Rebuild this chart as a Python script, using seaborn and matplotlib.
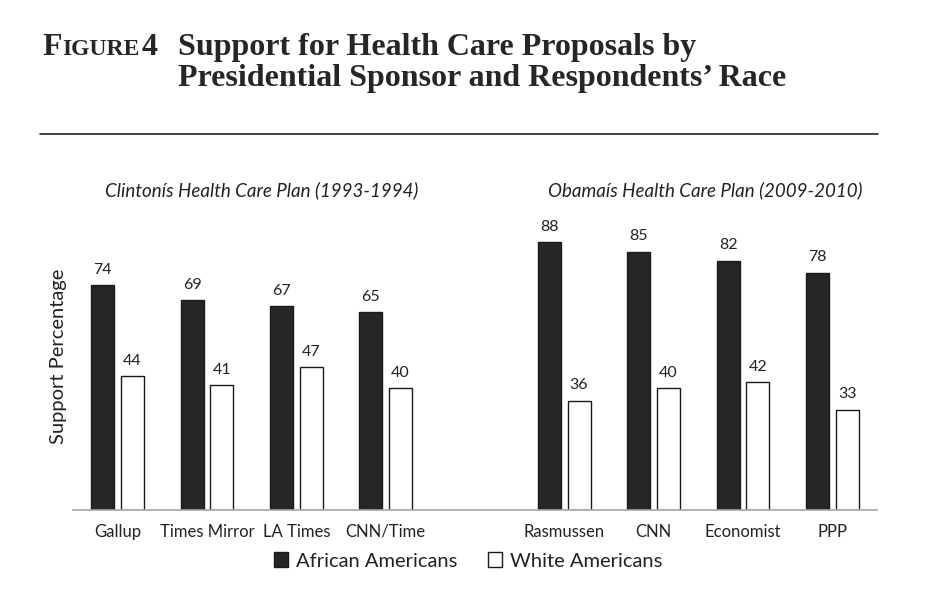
import pandas as pd
import matplotlib.pyplot as plt
import seaborn as sns
from matplotlib.patches import Patch
from matplotlib.lines import Line2D

# Data
clinton_polls = ['Gallup', 'Times Mirror', 'LA Times', 'CNN/Time']
clinton_black = [74, 69, 67, 65]
clinton_white = [44, 41, 47, 40]

obama_polls = ['Rasmussen', 'CNN', 'Economist', 'PPP']
obama_black = [88, 85, 82, 78]
obama_white = [36, 40, 42, 33]

groups = ['African Americans', 'White Americans']
spacer = ' '

rows = []
for polls, blk, wht in [(clinton_polls, clinton_black, clinton_white),
                        (obama_polls, obama_black, obama_white)]:
    for p, b, w in zip(polls, blk, wht):
        rows.append({'poll': p, 'race': groups[0], 'support': b})
        rows.append({'poll': p, 'race': groups[1], 'support': w})
df = pd.DataFrame(rows)
order = clinton_polls + [spacer] + obama_polls

sns.set_style('white')
plt.rcParams['font.family'] = ['Lato', 'DejaVu Sans']

fig = plt.figure(figsize=(9.36, 6), dpi=100)
ax = fig.add_axes([73 / 936, 1 - 510 / 600, (877 - 73) / 936, (510 - 170) / 600])

sns.barplot(data=df, x='poll', y='support', hue='race', order=order,
            hue_order=groups, palette={groups[0]: '#262626', groups[1]: 'white'},
            width=0.66, gap=0.22, edgecolor='#1a1a1a', linewidth=1.0,
            legend=False, ax=ax)

for cont in ax.containers:
    ax.bar_label(cont, fmt='%d', padding=6, fontsize=11.5, color='#222222')

ax.set_ylim(0, 111.8)
ax.set_xlim(-0.5, len(order) - 0.5)
ax.set_yticks([])
ax.set_xlabel('')
ax.set_ylabel('Support Percentage', fontsize=14.5, color='#222222')
ax.yaxis.set_label_coords(-0.008, 0.453)
ax.tick_params(axis='x', length=0, labelsize=12, colors='#222222', pad=10)
for s in ['top', 'right', 'left']:
    ax.spines[s].set_visible(False)
ax.spines['bottom'].set_color('#a6a6a6')
ax.spines['bottom'].set_linewidth(1.2)

# Panel subtitles
fig.text(262 / 936, 1 - 190 / 600, 'Clintonís Health Care Plan (1993-1994)',
         ha='center', va='center', style='italic', fontsize=13.5, color='#222222')
fig.text(705 / 936, 1 - 190 / 600, 'Obamaís Health Care Plan (2009-2010)',
         ha='center', va='center', style='italic', fontsize=13.5, color='#222222')

# Legend
handles = [Patch(facecolor='#262626', edgecolor='#1a1a1a', label=groups[0]),
           Patch(facecolor='white', edgecolor='#1a1a1a', label=groups[1])]
fig.legend(handles=handles, loc='center', bbox_to_anchor=(468 / 936, 1 - 561 / 600),
           ncol=2, frameon=False, fontsize=14.5, handlelength=0.7, handleheight=0.7,
           handletextpad=0.4, columnspacing=1.5, labelcolor='#222222')

# Figure heading ("Figure" in small caps, pieced together)
serif = ['Liberation Serif', 'DejaVu Serif']
base1 = 1 - 55 / 600
base2 = 1 - 86 / 600
renderer = fig.canvas.get_renderer()
t_f = fig.text(42 / 936, base1, 'F', fontsize=23, fontweight='bold', family=serif,
               va='baseline', ha='left')
x_next = t_f.get_window_extent(renderer).x1 / 936 + 0.5 / 936
fig.text(x_next, base1, 'IGURE', fontsize=17, fontweight='bold', family=serif,
         va='baseline', ha='left')
fig.text(142 / 936, base1, '4', fontsize=23, fontweight='bold', family=serif,
         va='baseline', ha='left')
fig.text(178 / 936, base1, 'Support for Health Care Proposals by',
         fontsize=23, fontweight='bold', family=serif, va='baseline', ha='left')
fig.text(178 / 936, base2, 'Presidential Sponsor and Respondents’ Race',
         fontsize=23, fontweight='bold', family=serif, va='baseline', ha='left')
fig.add_artist(Line2D([40 / 936, 878 / 936], [1 - 134 / 600, 1 - 134 / 600],
                      color='#222222', linewidth=1.2, transform=fig.transFigure))

fig.savefig('out.png', dpi=100)
